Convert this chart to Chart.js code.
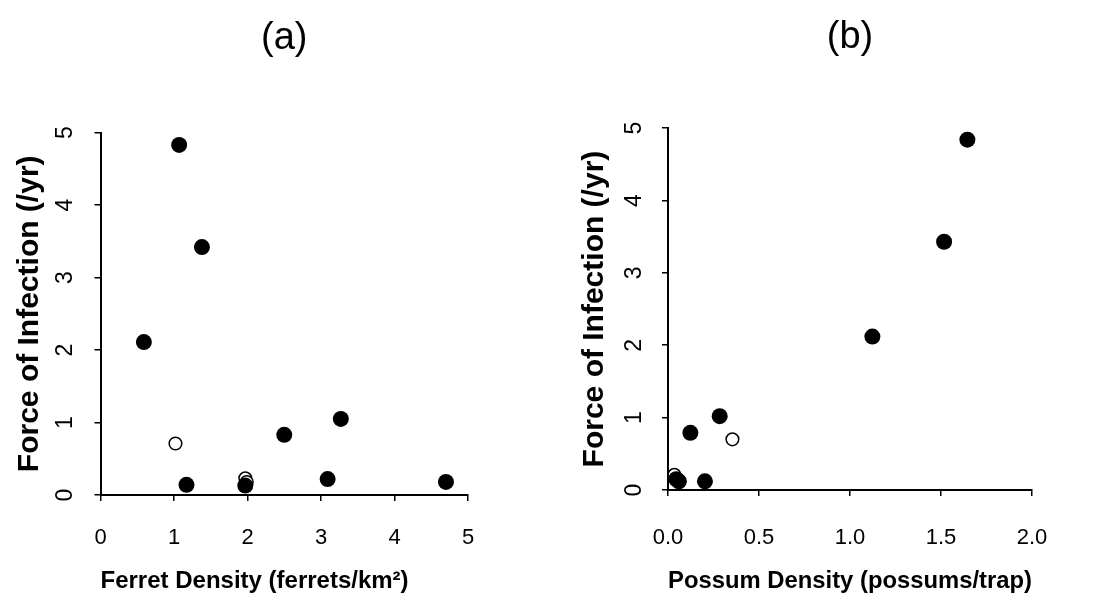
<!DOCTYPE html>
<html>
<head>
<meta charset="utf-8">
<script src="https://cdn.jsdelivr.net/npm/chart.js@4.4.0/dist/chart.umd.min.js"></script>
<style>
  html, body { margin: 0; padding: 0; background: #fff; }
  #wrap { position: relative; width: 1102px; height: 597px; }
  canvas { position: absolute; top: 0; }
</style>
</head>
<body>
<div id="wrap">
  <canvas id="ferret" width="551" height="597" style="left:0"></canvas>
  <canvas id="possum" width="551" height="597" style="left:551px"></canvas>
</div>
<script>
// (a) force of infection vs ferret density
const ferretFilledX = [0.59, 1.07, 1.38, 1.17, 1.97, 2.50, 3.27, 3.09, 4.70];
const ferretFilledY = [2.11, 4.83, 3.42, 0.14, 0.13, 0.83, 1.05, 0.22, 0.18];
const ferretOpenX = [1.02, 1.97, 1.99];
const ferretOpenY = [0.71, 0.23, 0.18];
const ferretXTicks = ['0', '1', '2', '3', '4', '5'];

// (b) force of infection vs possum density
const possumFilledX = [1.645, 1.517, 1.123, 0.284, 0.123, 0.203, 0.045, 0.06];
const possumFilledY = [4.84, 3.43, 2.12, 1.02, 0.79, 0.12, 0.15, 0.12];
const possumOpenX = [0.354, 0.035];
const possumOpenY = [0.70, 0.21];
const possumXTicks = ['0.0', '0.5', '1.0', '1.5', '2.0'];

const forceTicks = ['0', '1', '2', '3', '4', '5'];

const family = "'Liberation Sans', Arial, Helvetica, sans-serif";

function toPoints(xs, ys) {
    return xs.map((x, i) => ({ x: x, y: ys[i] }));
}

function panel(id, cfg) {
    return new Chart(document.getElementById(id), {
        type: 'scatter',
        data: {
            datasets: [{
                data: toPoints(cfg.filledX, cfg.filledY),
                pointRadius: 8,
                pointBackgroundColor: '#000',
                pointBorderColor: '#000',
                pointBorderWidth: 0
            }, {
                data: toPoints(cfg.openX, cfg.openY),
                pointRadius: 6.3,
                pointBackgroundColor: '#fff',
                pointBorderColor: '#000',
                pointBorderWidth: 1.5
            }]
        },
        options: {
            responsive: false,
            animation: false,
            clip: false,
            layout: { padding: { left: 0, right: cfg.padRight, top: 0, bottom: 0 } },
            plugins: {
                legend: { display: false },
                tooltip: { enabled: false },
                title: {
                    display: true,
                    text: cfg.title,
                    fullSize: false,
                    color: '#000',
                    font: { family: family, size: 38, weight: 'normal' },
                    padding: { top: cfg.titleTop, bottom: cfg.titleBottom }
                }
            },
            scales: {
                x: {
                    type: 'linear',
                    min: cfg.xMin,
                    max: cfg.xMax,
                    afterFit: s => { s.height = cfg.xAxisHeight },
                    afterBuildTicks: s => { s.ticks = cfg.xTicks.map(t => ({ value: parseFloat(t) })) },
                    ticks: {
                        callback: (v, i) => cfg.xTicks[i],
                        color: '#000',
                        padding: cfg.xTickPad,
                        font: { family: family, size: 22 }
                    },
                    grid: { drawOnChartArea: false, tickLength: 6, color: '#000', lineWidth: 1.5 },
                    border: { color: '#000', width: 2 },
                    title: {
                        display: true,
                        text: cfg.xTitle,
                        align: cfg.xTitleAlign,
                        color: '#000',
                        font: { family: family, size: 24, weight: 'bold' },
                        padding: { top: 0, bottom: 1 }
                    }
                },
                y: {
                    type: 'linear',
                    min: 0,
                    max: 5,
                    afterFit: s => { s.width = cfg.yAxisWidth },
                    afterBuildTicks: s => { s.ticks = forceTicks.map(t => ({ value: parseFloat(t) })) },
                    ticks: {
                        callback: (v, i) => forceTicks[i],
                        color: '#000',
                        minRotation: 90,
                        maxRotation: 90,
                        crossAlign: 'center',
                        padding: cfg.yTickPad,
                        font: { family: family, size: 23 }
                    },
                    grid: { drawOnChartArea: false, tickLength: 6, color: '#000', lineWidth: 1.5 },
                    border: { color: '#000', width: 2 },
                    title: {
                        display: true,
                        text: 'Force of Infection (/yr)',
                        color: '#000',
                        font: { family: family, size: 30, weight: 'bold' },
                        padding: { top: cfg.yTitlePad, bottom: 0 }
                    }
                }
            }
        }
    });
}

document.addEventListener('DOMContentLoaded', () => {
    panel('ferret', {
        title: '(a)',
        titleTop: 16, titleBottom: 71,
        filledX: ferretFilledX, filledY: ferretFilledY,
        openX: ferretOpenX, openY: ferretOpenY,
        xMin: 0, xMax: 5, xTicks: ferretXTicks,
        xTitle: 'Ferret Density (ferrets/km\u00B2)', xTitleAlign: 'start',
        padRight: 83, yAxisWidth: 100.5, xAxisHeight: 102,
        xTickPad: 24, yTickPad: 22, yTitlePad: 12
    });
    panel('possum', {
        title: '(b)',
        titleTop: 15, titleBottom: 67.5,
        filledX: possumFilledX, filledY: possumFilledY,
        openX: possumOpenX, openY: possumOpenY,
        xMin: 0, xMax: 2, xTicks: possumXTicks,
        xTitle: 'Possum Density (possums/trap)', xTitleAlign: 'center',
        padRight: 70, yAxisWidth: 117, xAxisHeight: 107,
        xTickPad: 29, yTickPad: 21, yTitlePad: 26
    });
});
</script>
</body>
</html>
